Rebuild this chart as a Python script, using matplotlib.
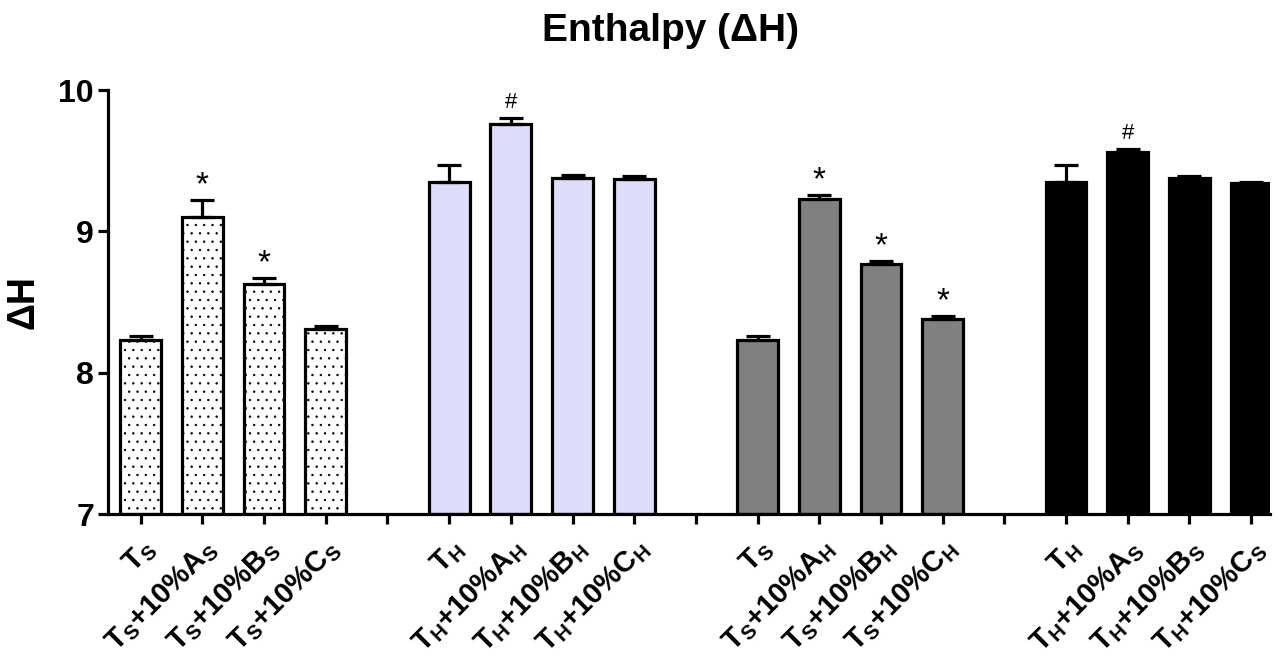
import numpy as np
import matplotlib
matplotlib.use("Agg")
import matplotlib.pyplot as plt

plt.rcParams["font.family"] = ["Liberation Sans", "DejaVu Sans"]
plt.rcParams["font.weight"] = "bold"
plt.rcParams["mathtext.fontset"] = "custom"
plt.rcParams["mathtext.rm"] = "Liberation Sans:bold"
plt.rcParams["mathtext.it"] = "Liberation Sans:bold"
plt.rcParams["mathtext.bf"] = "Liberation Sans:bold"
plt.rcParams["hatch.linewidth"] = 0.5

# ── Datos ──
grupo1 = [r"T$_\mathrm{S}$", r"T$_\mathrm{S}$+10%A$_\mathrm{S}$",
          r"T$_\mathrm{S}$+10%B$_\mathrm{S}$", r"T$_\mathrm{S}$+10%C$_\mathrm{S}$"]
grupo2 = [r"T$_\mathrm{H}$", r"T$_\mathrm{H}$+10%A$_\mathrm{H}$",
          r"T$_\mathrm{H}$+10%B$_\mathrm{H}$", r"T$_\mathrm{H}$+10%C$_\mathrm{H}$"]
grupo3 = [r"T$_\mathrm{S}$", r"T$_\mathrm{S}$+10%A$_\mathrm{H}$",
          r"T$_\mathrm{S}$+10%B$_\mathrm{H}$", r"T$_\mathrm{S}$+10%C$_\mathrm{H}$"]
grupo4 = [r"T$_\mathrm{H}$", r"T$_\mathrm{H}$+10%A$_\mathrm{S}$",
          r"T$_\mathrm{H}$+10%B$_\mathrm{S}$", r"T$_\mathrm{H}$+10%C$_\mathrm{S}$"]

valores1 = [8.23, 9.10, 8.63, 8.31]
valores2 = [9.35, 9.76, 9.38, 9.37]
valores3 = [8.23, 9.23, 8.77, 8.38]
valores4 = [9.35, 9.56, 9.38, 9.34]

errores1 = [0.03, 0.12, 0.04, 0.02]
errores2 = [0.12, 0.04, 0.02, 0.02]
errores3 = [0.03, 0.03, 0.02, 0.02]
errores4 = [0.12, 0.02, 0.01, 0.01]

marcas1 = ["", "*", "*", ""]
marcas2 = ["", "#", "", ""]
marcas3 = ["", "*", "*", "*"]
marcas4 = ["", "#", "", ""]

grupos = [
    (grupo1, valores1, errores1, marcas1, "white", ".."),
    (grupo2, valores2, errores2, marcas2, "#DDDDF9", None),
    (grupo3, valores3, errores3, marcas3, "#808080", None),
    (grupo4, valores4, errores4, marcas4, "black", None),
]

# ── Gráfico ──
fig = plt.figure(figsize=(12.78, 6.59), dpi=100)
ax = fig.add_axes([0.0845, 0.22, 0.909, 0.6434])

ticks, etiquetas = [], []
for g, (nombres, vals, errs, marcas, color, hatch) in enumerate(grupos):
    x = np.arange(len(nombres)) + g * 5
    base = 7
    ax.bar(x, np.array(vals) - base, bottom=base, width=0.66, color=color,
           edgecolor="black", linewidth=2.3, hatch=hatch, zorder=2)
    ax.errorbar(x, vals, yerr=[np.zeros(len(errs)), errs], fmt="none",
                ecolor="black", elinewidth=2.3, capsize=8.5, capthick=2.3, zorder=3)
    for xi, v, e, m in zip(x, vals, errs, marcas):
        if m == "*":
            ax.text(xi, v + e - 0.01, m, ha="center", va="bottom", fontsize=24,
                    fontweight="normal")
        elif m == "#":
            ax.text(xi, v + e + 0.04, m, ha="center", va="bottom", fontsize=16,
                    fontweight="normal")
    ticks += list(x)
    etiquetas += nombres
    if g < len(grupos) - 1:
        ticks.append(g * 5 + 4)
        etiquetas.append("")

ax.set_xticks(ticks)
ax.set_xticklabels(etiquetas, rotation=45, ha="right", rotation_mode="anchor",
                   fontsize=21, fontweight="bold")
ax.set_xlim(-0.53, 18.3)
ax.set_ylim(7, 10)
ax.set_yticks([7, 8, 9, 10])
ax.set_yticklabels(["7", "8", "9", "10"], fontsize=23, fontweight="bold")
ax.tick_params(axis="both", direction="out", length=7, width=2.3, pad=3)
ax.tick_params(axis="x", pad=8)
ax.spines["top"].set_visible(False)
ax.spines["right"].set_visible(False)
ax.spines["left"].set_linewidth(2.3)
ax.spines["bottom"].set_linewidth(2.3)

ax.set_ylabel(r"ΔH", fontsize=27, fontweight="bold", labelpad=12)
fig.text(670 / 1278, 1 - 31 / 659, "Enthalpy (ΔH)", ha="center", va="center",
         fontsize=28, fontweight="bold")

plt.savefig("out.png", dpi=100)
plt.close()
